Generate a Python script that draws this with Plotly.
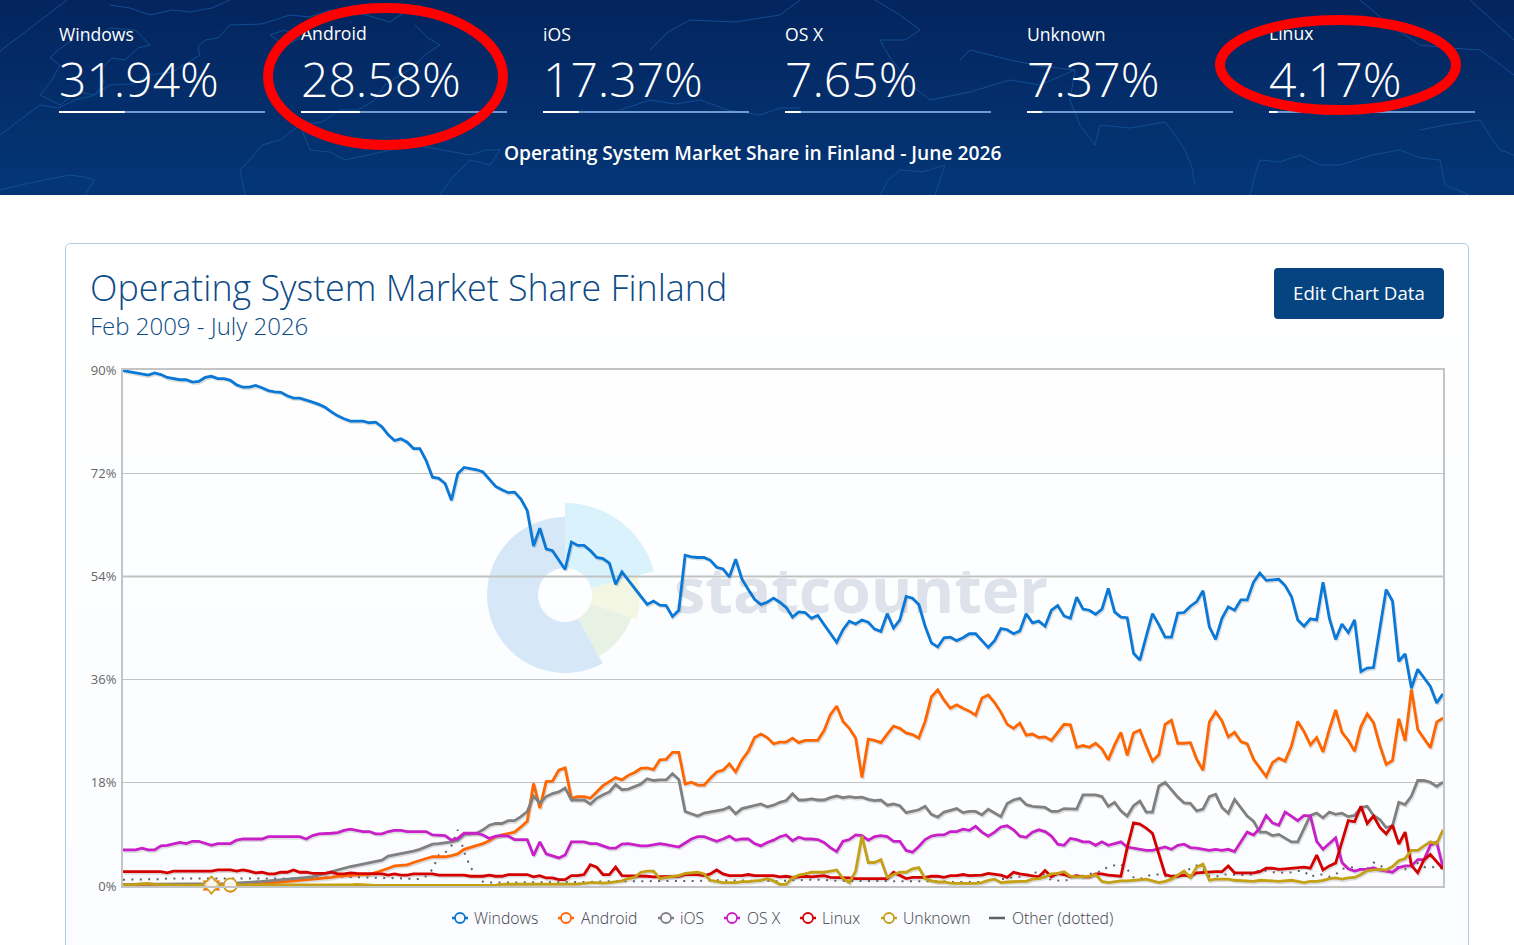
import math
import plotly.graph_objects as go

W, H = 1514, 945

# Monthly share of each operating system, Feb 2009 to Jul 2026
MONTHS = [f"{2009 + (m + 1) // 12}-{(m + 1) % 12 + 1:02d}" for m in range(210)]

windows = [
    89.9,89.7,89.5,89.3,89.1,89.5,89.2,88.7,88.5,88.3,
    88.3,87.9,88.0,88.7,88.9,88.5,88.5,88.2,87.4,87.0,
    87.0,87.3,86.9,86.4,86.2,86.1,85.5,85.1,85.1,84.8,
    84.4,84.0,83.5,82.7,82.0,81.5,81.1,81.1,81.1,80.8,
    80.9,80.1,78.7,77.7,78.0,77.4,76.3,76.3,74.2,71.3,
    71.1,70.2,67.3,71.9,73.0,72.8,72.6,72.2,71.0,69.7,
    69.1,68.6,68.7,67.5,65.5,59.3,62.4,58.8,58.5,56.9,
    55.2,60.0,59.4,59.4,58.5,57.3,57.1,56.3,52.6,54.8,
    53.3,52.0,50.5,49.1,49.7,49.0,48.9,47.0,48.1,
    57.7,57.4,57.3,57.3,56.8,55.6,55.3,53.9,57.0,53.5,
    51.7,50.0,49.1,49.5,50.2,49.5,48.6,46.9,47.8,47.7,
    46.7,47.2,45.6,44.0,42.5,44.7,46.2,45.7,46.4,46.0,
    44.8,44.4,47.5,45.0,46.4,50.5,50.2,49.1,45.3,42.4,
    41.7,43.3,43.4,42.8,43.3,44.0,44.0,42.8,41.6,42.8,
    44.9,44.7,44.0,44.5,47.5,45.9,46.2,45.3,48.1,48.9,
    47.1,46.7,50.4,48.3,48.1,47.4,48.3,51.9,47.8,46.9,
    46.8,40.6,39.4,43.5,47.5,45.6,43.4,43.4,47.6,47.7,
    48.8,49.6,51.5,45.2,43.0,46.7,48.7,48.1,49.9,49.9,
    53.0,54.6,53.3,53.4,53.5,52.4,50.5,46.4,45.3,46.6,
    46.4,53.0,46.7,43.0,45.7,44.2,46.4,37.4,38.0,38.1,
    45.0,51.7,49.7,39.2,40.5,34.5,37.8,36.3,34.8,31.94,33.5,
]

android = [
    0.1,0.1,0.1,0.1,0.1,0.1,0.1,0.1,0.1,0.1,
    0.1,0.1,0.1,0.1,0.1,0.1,0.1,0.1,0.1,0.1,
    0.2,0.3,0.4,0.5,0.5,0.6,0.7,0.9,1.0,1.1,
    1.2,1.3,1.4,1.5,1.7,1.8,1.9,2.0,2.0,2.0,
    2.3,2.7,3.1,3.5,3.6,3.7,4.1,4.5,4.8,5.1,
    5.1,5.1,5.3,5.6,6.4,6.7,7.0,7.4,7.9,8.6,
    8.9,9.1,9.4,10.3,11.3,17.9,13.6,18.2,18.3,20.2,
    20.6,15.3,15.6,15.6,15.3,16.4,17.5,18.2,18.9,18.5,
    19.3,19.8,20.5,20.6,20.3,22.0,22.1,23.3,23.3,17.8,
    18.1,17.6,17.6,18.8,19.9,20.2,21.3,19.9,22.0,23.5,
    25.9,26.5,25.9,24.8,25.1,25.1,25.8,25.0,25.4,25.4,
    25.4,27.1,29.9,31.4,28.7,27.5,25.8,18.9,25.6,25.4,
    25.0,26.5,27.9,27.5,26.7,26.4,25.8,28.7,33.0,34.2,
    32.4,31.0,31.6,31.0,30.5,29.8,32.8,33.3,32.0,30.3,
    28.2,27.5,28.4,26.3,26.5,25.9,26.0,25.4,26.8,28.2,
    28.1,24.2,24.5,24.2,24.9,23.9,22.0,24.6,26.8,22.8,
    26.7,27.2,24.4,21.8,22.9,28.2,28.9,24.9,24.9,25.0,
    22.1,20.2,28.6,30.4,28.8,26.0,26.8,25.2,24.8,22.1,
    20.6,19.1,21.5,22.3,21.8,24.4,28.7,26.9,24.6,25.9,
    23.4,27.3,30.7,26.8,25.4,23.5,27.8,30.0,28.5,24.5,
    21.2,21.9,29.2,25.3,34.3,27.3,25.7,24.1,28.58,29.3,
]

ios = [
    0.3,0.3,0.3,0.3,0.35,0.35,0.3,0.3,0.3,0.3,
    0.3,0.35,0.4,0.4,0.4,0.4,0.4,0.45,0.5,0.6,
    0.7,0.75,0.8,0.9,1.0,1.1,1.2,1.3,1.4,1.5,
    1.6,1.9,2.2,2.5,2.8,3.2,3.4,3.6,3.8,4.0,
    4.3,4.5,5.2,5.4,5.7,5.9,6.1,6.4,6.9,7.3,
    7.4,7.5,7.7,8.0,9.0,9.1,9.2,9.8,10.6,10.9,
    10.9,11.4,11.4,12.1,13.0,15.7,14.5,15.6,16.1,16.4,
    17.1,15.0,15.0,15.0,14.3,15.3,15.9,16.4,17.7,16.8,
    16.9,17.4,17.8,18.7,18.4,18.5,18.5,19.6,18.6,13.0,
    12.6,12.2,12.7,12.9,13.1,13.3,13.8,12.6,13.5,13.8,
    14.0,14.3,13.8,14.1,14.6,14.9,16.1,15.0,15.0,15.2,
    15.0,15.0,15.4,15.7,15.4,15.6,15.4,15.5,15.1,14.9,
    15.0,14.1,14.3,14.0,12.8,13.1,13.3,13.9,12.5,12.0,
    12.9,13.2,13.5,12.8,13.0,13.0,12.4,13.4,12.7,12.1,
    14.4,15.0,15.3,14.2,13.9,13.8,13.7,13.0,13.0,13.5,
    13.5,13.4,15.9,15.9,15.9,15.6,13.9,14.6,13.1,12.2,
    14.0,14.8,12.9,12.9,17.4,18.1,16.7,15.5,14.5,14.4,
    13.1,13.4,15.6,16.0,13.7,12.7,15.1,13.7,12.2,11.3,
    9.4,9.4,8.8,9.0,8.3,7.7,7.7,9.9,12.3,12.7,
    11.9,12.9,12.5,12.7,12.1,12.3,13.7,13.9,12.3,11.6,
    10.2,10.5,14.6,14.2,15.7,18.4,18.4,18.1,17.37,18.1,
]

osx = [
    6.3,6.3,6.3,6.6,6.3,6.3,7.0,7.1,7.4,7.6,
    7.4,7.8,7.8,7.4,7.1,7.4,7.4,7.4,8.0,8.2,
    8.2,8.2,8.2,8.6,8.6,8.6,8.6,8.6,8.6,8.2,
    8.8,9.1,9.1,9.2,9.3,9.7,9.9,9.7,9.5,9.5,
    9.1,9.1,9.5,9.7,9.7,9.5,9.5,9.5,9.5,8.9,
    8.8,8.8,8.0,8.3,9.2,9.2,9.2,8.9,8.3,8.7,
    8.8,8.7,8.1,8.1,8.1,5.3,7.7,5.6,5.3,4.9,
    5.4,7.7,7.7,7.7,7.4,7.4,7.0,6.6,6.6,7.3,
    7.4,7.2,7.0,7.0,7.2,7.4,7.2,7.0,6.8,7.5,
    8.2,8.6,8.6,8.2,7.8,8.2,8.7,8.0,8.2,8.2,
    7.4,7.0,7.6,8.0,8.6,8.9,7.9,8.5,8.2,8.2,
    8.1,7.6,6.7,6.0,7.8,8.1,8.9,8.8,8.0,8.6,
    8.8,8.6,7.8,7.8,6.2,5.9,6.9,8.1,8.7,8.9,
    8.9,9.5,9.5,9.9,9.7,10.4,9.4,8.7,9.4,10.3,
    10.5,9.8,8.7,8.5,9.4,9.8,9.5,8.7,7.3,7.1,
    8.3,8.1,7.7,7.7,7.1,7.7,7.1,7.4,7.7,6.8,
    6.6,6.4,6.2,6.2,6.5,6.8,6.4,7.1,7.3,6.7,
    6.6,6.4,6.2,6.4,6.2,6.4,6.0,7.7,9.4,8.9,
    10.1,12.3,11.0,10.6,12.9,12.2,11.4,12.3,12.2,7.8,
    6.4,7.4,8.4,4.1,3.0,2.6,2.9,2.9,3.2,2.8,
    2.6,2.4,3.2,3.5,3.5,4.6,4.6,7.1,7.65,3.2,
]

linux = [
    2.5,2.5,2.5,2.5,2.5,2.5,2.5,2.3,2.6,2.6,
    2.6,2.6,2.6,2.6,2.6,2.8,2.8,2.8,2.6,2.8,
    2.6,2.3,2.4,2.1,2.1,2.4,2.4,2.8,2.4,2.4,
    2.2,2.2,2.2,2.4,2.1,2.1,2.3,2.2,2.2,2.2,
    2.1,2.1,1.9,2.1,1.9,1.9,2.1,2.1,2.1,2.1,
    1.9,1.9,1.9,1.9,1.9,1.7,1.7,1.7,1.9,1.7,
    1.7,2.0,2.0,2.0,2.0,1.6,1.8,1.4,1.4,1.1,
    1.1,1.8,1.8,2.0,3.7,3.3,2.0,2.0,3.3,1.8,
    1.8,1.8,1.8,1.7,1.6,1.6,1.7,1.6,1.7,2.0,
    2.0,2.0,1.8,2.1,2.8,2.1,1.8,1.8,1.8,2.0,
    1.8,1.8,1.8,1.8,1.6,1.7,1.5,1.6,1.7,1.6,
    1.7,1.8,1.5,1.5,1.4,1.4,1.3,1.3,1.3,1.3,
    1.3,1.3,2.4,1.8,1.3,1.5,1.5,1.5,1.7,1.7,
    1.5,1.8,1.8,2.0,1.8,1.8,1.9,2.2,2.0,1.9,
    1.5,2.4,2.1,1.9,1.7,1.6,2.7,1.6,2.2,2.0,
    1.6,1.8,1.6,1.6,2.1,2.1,1.9,1.8,1.7,6.7,
    11.0,10.8,10.1,9.2,5.5,2.0,1.7,1.7,1.9,1.7,
    2.3,2.4,2.5,2.5,2.5,3.5,2.3,2.3,2.3,2.3,
    2.5,3.1,3.1,2.9,3.0,3.1,3.3,3.3,3.1,5.4,
    2.8,3.5,4.0,7.6,11.4,11.2,13.9,10.9,12.2,10.2,
    9.1,10.6,7.3,9.4,3.6,2.3,4.6,5.5,4.17,3.0,
]

unknown = [
    0.25,0.25,0.3,0.4,0.45,0.3,0.2,0.2,0.15,0.15,
    0.2,0.2,0.2,0.2,0.2,0.2,0.2,0.2,0.15,0.15,
    0.15,0.15,0.15,0.15,0.15,0.15,0.15,0.15,0.15,0.15,
    0.1,0.1,0.1,0.1,0.1,0.15,0.2,0.3,0.2,0.1,
    0.1,0.1,0.1,0.1,0.1,0.1,0.1,0.1,0.1,0.1,
    0.15,0.15,0.15,0.15,0.15,0.15,0.15,0.15,0.15,0.15,
    0.3,0.3,0.3,0.3,0.3,0.3,0.3,0.3,0.3,0.3,
    0.3,0.35,0.35,0.45,0.6,0.6,0.5,0.6,0.7,0.9,
    1.3,1.5,2.4,2.6,2.6,1.3,1.5,1.6,1.8,2.2,
    2.3,2.4,2.1,1.0,0.8,0.6,0.6,0.6,0.75,0.75,
    0.9,1.0,1.3,0.9,0.3,0.3,1.4,1.9,2.1,2.4,
    2.4,2.4,2.6,2.8,1.3,0.6,2.6,8.7,4.1,4.1,
    4.6,1.5,2.0,2.4,2.4,3.0,3.2,1.3,0.9,0.7,
    0.7,0.5,0.45,0.45,0.45,0.45,0.6,1.0,1.2,0.6,
    0.7,0.8,0.8,0.8,1.2,1.3,1.6,2.1,2.2,2.5,
    1.7,1.6,1.6,1.7,2.0,0.8,0.6,0.75,0.9,0.9,
    1.0,1.0,1.2,0.9,0.6,0.8,1.2,1.9,2.6,1.5,
    3.3,3.8,1.0,1.2,1.2,1.2,1.0,0.9,0.8,0.8,
    1.0,1.0,0.9,0.8,0.9,1.0,0.8,0.6,0.8,0.8,
    1.0,1.3,1.4,1.2,1.4,1.5,2.0,2.7,2.8,2.9,
    2.8,3.4,4.4,4.8,6.2,6.2,7.0,7.7,7.37,9.8,
]

other = [
    1.1,1.1,1.1,1.2,1.2,1.2,1.2,1.3,1.3,1.3,
    1.3,1.3,1.3,1.2,1.2,1.2,1.2,1.2,1.2,1.2,
    1.2,1.2,1.2,1.2,1.2,1.3,1.3,1.3,1.3,1.4,
    1.45,1.5,1.5,1.7,1.6,1.6,1.55,1.5,1.5,1.5,
    1.4,1.4,1.4,1.4,1.3,1.3,1.2,1.2,1.7,2.9,
    5.4,5.8,7.0,9.8,6.0,3.3,1.7,0.75,0.6,0.6,
    0.6,0.6,0.6,0.7,0.7,0.7,0.7,0.7,0.6,0.6,
    0.6,0.6,0.7,0.7,0.7,0.8,0.8,0.8,0.8,0.8,
    0.8,0.8,0.8,0.8,0.8,0.8,0.9,0.9,0.9,0.9,
    0.9,0.9,0.9,1.0,1.0,1.0,1.0,1.0,1.0,0.9,
    0.9,0.9,0.9,0.8,0.9,1.0,1.0,1.0,1.1,1.1,
    1.1,1.1,1.0,0.9,0.9,0.9,0.8,0.8,0.9,0.9,
    0.8,0.8,0.8,0.9,0.9,0.9,0.9,0.8,0.8,0.8,
    0.8,0.7,0.7,0.7,0.7,0.7,0.7,0.9,1.2,1.2,
    1.2,1.6,1.6,1.9,2.3,2.4,1.9,1.0,0.9,0.9,
    1.2,1.7,1.8,2.1,2.3,2.6,3.4,3.6,3.8,2.9,
    1.5,1.2,1.7,2.0,2.0,1.7,1.7,1.9,2.6,3.0,
    3.6,3.0,1.7,1.6,2.0,2.0,1.9,1.9,2.0,2.0,
    2.9,2.6,2.4,2.4,2.3,2.4,2.6,2.6,1.6,2.0,
    2.0,1.6,2.0,3.0,3.2,3.3,2.9,3.0,4.1,3.6,
    3.0,3.2,3.3,2.9,4.4,4.0,3.3,3.2,3.4,3.0,
]

for series in (windows, android, ios, osx, linux, unknown, other):
    assert len(series) == len(MONTHS), len(series)

# Headline figures for the latest full month
STAT_NAMES = ["Windows", "Android", "iOS", "OS X", "Unknown", "Linux"]
STAT_VALUES = [31.94, 28.58, 17.37, 7.65, 7.37, 4.17]
STAT_LEFT = [59, 301, 543, 785, 1027, 1269]
STAT_BAR_WIDTH = 206

Y_TICKS = [0, 18, 36, 54, 72, 90]
Y_TICK_TEXT = ["0%", "18%", "36%", "54%", "72%", "90%"]

COLORS = {
    "Windows": "#0a78d6",
    "Android": "#ff6600",
    "iOS": "#808080",
    "OS X": "#c91fc9",
    "Linux": "#d40000",
    "Unknown": "#c4a015",
    "Other (dotted)": "#606060",
}
FONT = "Open Sans"


def px(x):
    return x / W


def py(y):
    return 1 - y / H


def rect(x0, y0, x1, y1, color, layer="below"):
    return dict(type="rect", xref="paper", yref="paper", x0=px(x0), x1=px(x1),
                y0=py(y0), y1=py(y1), fillcolor=color, line_width=0, layer=layer)


def polyline(points, color, width=1):
    path = "M" + " L".join(f"{px(a):.5f},{py(b):.5f}" for a, b in points)
    return dict(type="path", xref="paper", yref="paper", path=path,
                line=dict(color=color, width=width), layer="below")


def blend(c0, c1, t):
    return "rgb(" + ",".join(str(round(a + (b - a) * t)) for a, b in zip(c0, c1)) + ")"


def sector(cx, cy, r_in, r_out, a0, a1, color):
    """Ring sector; angles are degrees clockwise from twelve o'clock."""
    pts = []
    n = 40
    for k in range(n + 1):
        a = math.radians(a0 + (a1 - a0) * k / n)
        pts.append((cx + r_out * math.sin(a), cy - r_out * math.cos(a)))
    for k in range(n, -1, -1):
        a = math.radians(a0 + (a1 - a0) * k / n)
        pts.append((cx + r_in * math.sin(a), cy - r_in * math.cos(a)))
    path = "M" + " L".join(f"{px(a):.5f},{py(b):.5f}" for a, b in pts) + " Z"
    return dict(type="path", xref="paper", yref="paper", path=path,
                fillcolor=color, line_width=0, layer="below")


shapes = []

# Header band: vertical gradient with a faint world-map outline.
# Each strip runs down to the bottom of the band, so later strips simply paint over it.
for k in range(39):
    shapes.append(rect(0, k * 5, W, 195,
                       blend((4, 37, 94), (4, 54, 118), k / 38)))

COAST = "#114d92"
COASTLINES = [
    [(0, 51), (67, 0)],
    [(40, 95), (52, 80), (60, 65), (50, 58), (58, 50), (80, 35), (95, 38), (110, 28), (135, 30), (150, 45), (138, 48), (125, 60), (112, 58), (100, 70), (104, 82), (95, 95), (78, 92), (60, 105), (40, 95)],
    [(0, 135), (12, 126), (20, 120), (40, 105), (58, 108), (75, 100), (92, 96), (110, 85), (132, 84), (150, 75), (172, 72), (200, 55), (198, 47), (205, 40), (218, 38), (230, 25), (262, 24), (290, 15), (310, 17), (330, 10), (362, 14), (390, 22), (405, 12), (420, 5)],
    [(110, 5), (130, 8), (150, 15), (172, 10), (190, 12), (212, 8), (230, 0)],
    [(245, 195), (240, 170), (250, 160), (262, 145), (280, 140), (300, 125), (322, 122), (340, 110), (358, 110), (375, 100), (385, 85), (400, 75), (412, 68), (425, 55), (440, 45), (428, 38), (415, 25)],
    [(300, 125), (306, 140), (310, 150), (330, 152), (345, 160), (382, 152), (415, 145), (442, 150), (470, 155), (486, 150), (500, 150), (490, 165), (470, 160), (452, 178), (440, 195)],
    [(0, 190), (16, 186), (30, 183), (50, 179), (70, 175), (84, 177), (95, 180), (85, 195)],
    [(270, 35), (285, 30), (300, 38), (285, 46), (270, 35)],
    [(650, 50), (668, 32), (690, 20), (735, 22), (780, 15), (800, 0)],
    [(620, 110), (650, 100), (675, 104), (700, 100), (728, 110), (760, 115), (780, 108), (800, 108)],
    [(875, 0), (900, 15), (920, 30), (905, 40), (880, 40), (890, 58), (900, 70), (915, 88), (930, 100), (970, 92), (1010, 80), (1040, 85), (1075, 70), (1040, 66), (1010, 60), (970, 50), (960, 60)],
    [(1075, 70), (1070, 100), (1080, 125), (1095, 145), (1100, 125), (1130, 128), (1165, 122), (1175, 135), (1185, 150), (1192, 168), (1195, 185)],
    [(1250, 195), (1255, 175), (1260, 160), (1280, 162), (1300, 155), (1320, 165), (1340, 165), (1372, 155), (1400, 150), (1420, 158), (1440, 160), (1445, 185), (1470, 195)],
    [(1420, 130), (1445, 125), (1480, 120), (1490, 136), (1500, 150), (1514, 155)],
    [(1360, 0), (1390, 25), (1420, 45), (1450, 48), (1480, 50), (1497, 62), (1514, 75)],
    [(1470, 0), (1514, 40)],
    [(880, 195), (888, 180), (900, 170), (922, 172), (945, 165), (940, 180), (935, 195)],
]
for line in COASTLINES:
    shapes.append(polyline(line, COAST))

# Card behind the chart, fading very slightly towards the bottom
for k in range(24):
    y0 = 244 + k * 30
    shapes.append(rect(66, y0, 1468, H,
                       blend((255, 255, 255), (250, 252, 255), k / 23)))
card_path = (f"M{px(65.5):.5f},{py(H + 5):.5f} L{px(65.5):.5f},{py(249):.5f} "
             f"Q{px(65.5):.5f},{py(243.5):.5f} {px(71):.5f},{py(243.5):.5f} "
             f"L{px(1463):.5f},{py(243.5):.5f} "
             f"Q{px(1468.5):.5f},{py(243.5):.5f} {px(1468.5):.5f},{py(249):.5f} "
             f"L{px(1468.5):.5f},{py(H + 5):.5f}")
shapes.append(dict(type="path", xref="paper", yref="paper", path=card_path,
                   line=dict(color="#b3cbe2", width=1), layer="below"))

# Button
btn = (f"M{px(1278):.5f},{py(268):.5f} L{px(1440):.5f},{py(268):.5f} "
       f"Q{px(1444):.5f},{py(268):.5f} {px(1444):.5f},{py(272):.5f} "
       f"L{px(1444):.5f},{py(315):.5f} Q{px(1444):.5f},{py(319):.5f} {px(1440):.5f},{py(319):.5f} "
       f"L{px(1278):.5f},{py(319):.5f} Q{px(1274):.5f},{py(319):.5f} {px(1274):.5f},{py(315):.5f} "
       f"L{px(1274):.5f},{py(272):.5f} Q{px(1274):.5f},{py(268):.5f} {px(1278):.5f},{py(268):.5f} Z")
shapes.append(dict(type="path", xref="paper", yref="paper", path=btn,
                   fillcolor="#054481", line_width=0, layer="below"))

# Watermark logo
LOGO = (565, 595, 27)
shapes.append(sector(*LOGO, 78, 151, 360, "#d6e8f7"))
shapes.append(sector(*LOGO, 92, 0, 75, "#d9f2fb"))
shapes.append(sector(*LOGO, 75, 75, 109, "#f2f6e3"))
shapes.append(sector(*LOGO, 70, 109, 151, "#e7f1e4"))

# Headline progress bars: the white part is the share itself
for left, value in zip(STAT_LEFT, STAT_VALUES):
    shapes.append(rect(left, 111, left + STAT_BAR_WIDTH, 113, "#6f9bd0"))
    shapes.append(rect(left, 111, left + STAT_BAR_WIDTH * value / 100, 113, "#ffffff"))

# Hand-drawn emphasis rings, above every other mark
for x0, y0, x1, y1 in [(268, 8, 503, 145), (1220, 20, 1456, 110)]:
    shapes.append(dict(type="circle", xref="paper", yref="paper",
                       x0=px(x0), x1=px(x1), y0=py(y0), y1=py(y1),
                       line=dict(color="#fe0000", width=10), layer="above"))

annotations = []


def label(x, y, text, size, color, weight=400, anchor="left"):
    annotations.append(dict(xref="paper", yref="paper", x=px(x), y=py(y), text=text,
                            showarrow=False, xanchor=anchor, yanchor="middle",
                            borderpad=0, borderwidth=0,
                            font=dict(family=FONT, size=size, color=color, weight=weight)))


for name, value, left in zip(STAT_NAMES, STAT_VALUES, STAT_LEFT):
    if name not in ("Android", "Linux"):
        label(left, 34, name, 17.6, "#ffffff")
    label(left, 78, f"{value:.2f}%", 48, "#ffffff", weight=300)

label(752.5, 153, "Operating System Market Share in Finland - June 2026", 19.2, "#ffffff",
      weight=600, anchor="center")
label(90, 287, "Operating System Market Share Finland", 35.85, "#0c4a86", weight=300)
label(90, 325, "Feb 2009 - July 2026", 24, "#0c4a86", weight=300)
label(1359, 292.5, "Edit Chart Data", 18.7, "#ffffff", weight=500, anchor="center")

# Legend row
LEGEND = [("Windows", 460, 474), ("Android", 566, 581), ("iOS", 666, 680), ("OS X", 732, 747),
          ("Linux", 808, 822), ("Unknown", 889, 903), ("Other (dotted)", 997, 1012)]
for name, cx, tx in LEGEND:
    color = COLORS[name]
    shapes.append(dict(type="line", xref="paper", yref="paper", x0=px(cx - 8), x1=px(cx + 8),
                       y0=py(918), y1=py(918), line=dict(color=color, width=2.5), layer="below"))
    if name != "Other (dotted)":
        shapes.append(dict(type="circle", xref="paper", yref="paper",
                           x0=px(cx - 5), x1=px(cx + 5), y0=py(913), y1=py(923),
                           fillcolor="#fafcff", line=dict(color=color, width=1.8), layer="below"))
    label(tx, 918, name, 15.75, "#3d4045", weight=300)

fig = go.Figure()

# Full-page text layer under the chart: watermark word and the two ringed labels
fig.add_trace(go.Scatter(x=[861], y=[597], mode="text", text=["statcounter"],
                         textfont=dict(family=FONT, size=63.5, color="#dde2eb", weight=700),
                         xaxis="x", yaxis="y", hoverinfo="skip", showlegend=False))
for name in ("Android", "Linux"):
    left = STAT_LEFT[STAT_NAMES.index(name)]
    fig.add_trace(go.Scatter(x=[left], y=[36], mode="text", text=[name], textposition="middle right",
                             textfont=dict(family=FONT, size=17.6, color="#ffffff"),
                             xaxis="x", yaxis="y", hoverinfo="skip", showlegend=False))

SERIES = [("Windows", windows), ("Android", android), ("iOS", ios),
          ("OS X", osx), ("Linux", linux), ("Unknown", unknown)]

# Soft drop shadow: the same lines on axes nudged one pixel right and down
for name, values in SERIES:
    fig.add_trace(go.Scatter(x=MONTHS, y=values, mode="lines", hoverinfo="skip", showlegend=False,
                             line=dict(color="rgba(0,0,0,0.13)", width=3),
                             xaxis="x2", yaxis="y2"))

# The share lines
fig.add_trace(go.Scatter(x=MONTHS, y=other, name="Other (dotted)", mode="lines",
                         line=dict(color=COLORS["Other (dotted)"], width=2, dash="2px,6.4px"),
                         xaxis="x3", yaxis="y3"))
for name, values in SERIES:
    fig.add_trace(go.Scatter(x=MONTHS, y=values, name=name, mode="lines",
                             line=dict(color=COLORS[name], width=2.8, shape="linear"),
                             xaxis="x3", yaxis="y3"))

# Annotated months on the baseline
for idx, orange, yellow in [(14, "hexagram", "diamond"), (17, "circle", "circle")]:
    fig.add_trace(go.Scatter(x=[MONTHS[idx]], y=[android[idx]], mode="markers", showlegend=False,
                             cliponaxis=False, hoverinfo="skip", xaxis="x3", yaxis="y3",
                             marker=dict(symbol=orange, size=13, color="rgba(255,255,255,0.7)",
                                         line=dict(color=COLORS["Android"], width=1.5))))
    fig.add_trace(go.Scatter(x=[MONTHS[idx]], y=[unknown[idx]], mode="markers", showlegend=False,
                             cliponaxis=False, hoverinfo="skip", xaxis="x3", yaxis="y3",
                             marker=dict(symbol=yellow, size=13, color="rgba(255,255,255,0.7)",
                                         line=dict(color=COLORS["Unknown"], width=1.5))))

# The 54% rule sits on a pixel boundary and reads heavier than its neighbours
shapes.append(dict(type="line", xref="x3 domain", yref="y3", x0=0, x1=1, y0=54, y1=54,
                   line=dict(color="#c2c2c2", width=2), layer="below"))

fig.update_layout(
    width=W, height=H, margin=dict(l=0, r=0, t=0, b=0, autoexpand=False),
    paper_bgcolor="#ffffff", plot_bgcolor="rgba(0,0,0,0)",
    showlegend=False, shapes=shapes, annotations=annotations,
    font=dict(family=FONT),
    xaxis=dict(domain=[0, 1], range=[0, W], visible=False, fixedrange=True),
    yaxis=dict(domain=[0, 1], range=[H, 0], visible=False, fixedrange=True),
    xaxis2=dict(domain=[px(124), px(1444)], anchor="y2", type="category", categoryorder="array",
                categoryarray=MONTHS, range=[0, len(MONTHS) - 1], visible=False, fixedrange=True),
    yaxis2=dict(domain=[py(887.5), py(371.5)], anchor="x2", range=[0, 90], visible=False, fixedrange=True),
    xaxis3=dict(domain=[px(123), px(1443)], anchor="y3", type="category", categoryorder="array",
                categoryarray=MONTHS, range=[0, len(MONTHS) - 1], showticklabels=False, ticks="",
                showgrid=False, showline=True, linecolor="#c4c4c4", linewidth=2, mirror=True,
                zeroline=False),
    yaxis3=dict(domain=[py(886), py(370)], anchor="x3", range=[0, 90], tickvals=Y_TICKS,
                ticktext=Y_TICK_TEXT, tickfont=dict(family=FONT, size=13, color="#666666"),
                ticks="outside", ticklen=2, tickcolor="rgba(0,0,0,0)", showgrid=True,
                gridcolor="#c2c2c2", gridwidth=1, zeroline=False, showline=True,
                linecolor="#c4c4c4", linewidth=2, mirror=True),
    hovermode="x",
)

fig.write_html("out.html", config=dict(displayModeBar=False))
